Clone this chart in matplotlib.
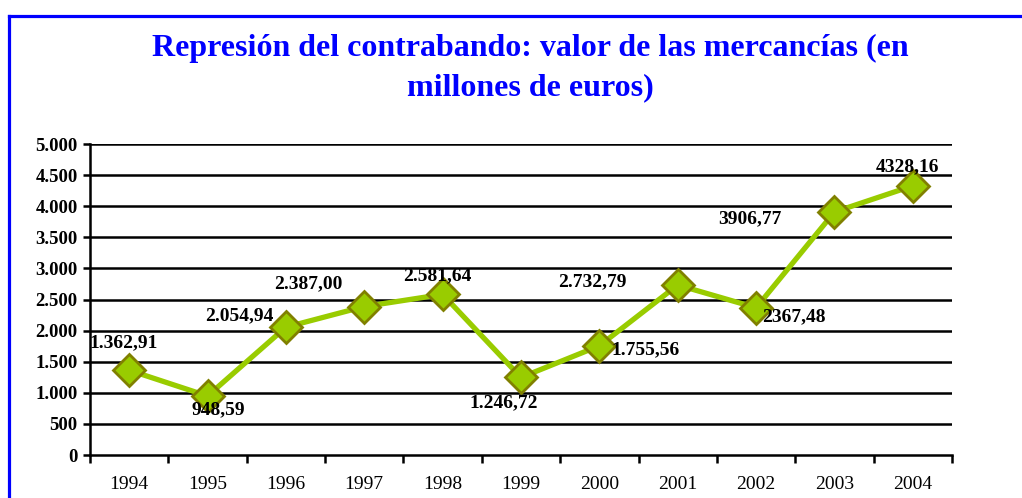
import matplotlib
matplotlib.use("Agg")
import matplotlib.pyplot as plt
from matplotlib.lines import Line2D

years = ["1994", "1995", "1996", "1997", "1998", "1999", "2000", "2001", "2002", "2003", "2004"]
values = [1362.91, 948.59, 2054.94, 2387.00, 2581.64, 1246.72, 1755.56, 2732.79, 2367.48, 3906.77, 4328.16]
labels = ["1.362,91", "948,59", "2.054,94", "2.387,00", "2.581,64", "1.246,72",
          "1.755,56", "2.732,79", "2367,48", "3906,77", "4328,16"]
yticks = [0, 500, 1000, 1500, 2000, 2500, 3000, 3500, 4000, 4500, 5000]
ytick_labels = ["0", "500", "1.000", "1.500", "2.000", "2.500", "3.000", "3.500", "4.000", "4.500", "5.000"]

title = "Represión del contrabando: valor de las mercancías (en\nmillones de euros)"

# label offsets in pixels (dx, dy) relative to each point
offsets = [(-6, 27), (11, -14), (-47, 11), (-56, 23), (-5, 19), (-17, -25),
           (46, -4), (-85, 3), (38, -9), (-85, -7), (-5, 19)]

W, H = 1022, 498
fig = plt.figure(figsize=(W / 100, H / 100), dpi=100)
fig.patch.set_facecolor("white")

serif = ["Liberation Serif", "DejaVu Serif"]

# blue border (left and top)
fig.add_artist(Line2D([9 / W, 9 / W], [0, 1 - 16 / H], transform=fig.transFigure,
                      color="#0000ff", lw=2.3, solid_capstyle="projecting"))
fig.add_artist(Line2D([9 / W, 1.0], [1 - 16 / H, 1 - 16 / H], transform=fig.transFigure,
                      color="#0000ff", lw=2.3, solid_capstyle="projecting"))

fig.text(530 / W, 1 - 68 / H, title, ha="center", va="center", color="#0000ff",
         fontsize=23, fontweight="bold", family=serif, linespacing=1.45)

left, right, top, bottom = 90, 952, 144, 455
ax = fig.add_axes([left / W, 1 - bottom / H, (right - left) / W, (bottom - top) / H])
x = list(range(len(years)))
ax.set_xlim(-0.5, len(years) - 0.5)
ax.set_ylim(0, 5000)

for yv in yticks[1:]:
    ax.axhline(yv, color="black", lw=1.8, zorder=1)

ax.plot(x, values, color="#99cc00", lw=3.8, zorder=3,
        marker="D", markersize=16, markerfacecolor="#99cc00",
        markeredgecolor="#808000", markeredgewidth=2)

for xi, v, lab, (dx, dy) in zip(x, values, labels, offsets):
    ax.annotate(lab, (xi, v), xytext=(dx, dy), textcoords="offset pixels",
                ha="center", va="center", fontsize=14, fontweight="bold",
                family=serif, color="black", zorder=4)

for s in ["top", "right"]:
    ax.spines[s].set_visible(False)
ax.spines["left"].set_linewidth(1.8)
ax.spines["bottom"].set_linewidth(1.8)

ax.set_yticks(yticks)
ax.set_yticklabels(ytick_labels, fontsize=13.5, fontweight="bold", family=serif)
ax.tick_params(axis="y", length=5, width=1.8, pad=4)

ax.set_xticks([i - 0.5 for i in range(len(years) + 1)], minor=False)
ax.set_xticklabels([""] * (len(years) + 1))
ax.tick_params(axis="x", which="major", length=6, width=1.8, direction="out")
ax.set_xticks(x, minor=True)
ax.set_xticklabels(years, minor=True, fontsize=14, family=serif)
ax.tick_params(axis="x", which="minor", length=0, pad=15)

fig.savefig("out.png", dpi=100, facecolor="white")
